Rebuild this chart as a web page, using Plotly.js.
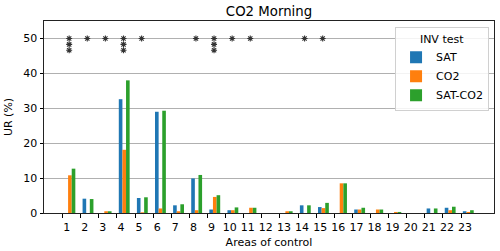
<!DOCTYPE html>
<html>
<head>
<meta charset="utf-8">
<script src="https://cdn.plot.ly/plotly-3.0.1.min.js"></script>
<style>html,body{margin:0;padding:0;background:#fff;}#chart{width:500px;height:251px;}</style>
</head>
<body>
<div id="chart"></div>
<script>
// Data
const categories = [1,2,3,4,5,6,7,8,9,10,11,12,13,14,15,16,17,18,19,20,21,22,23];
const satValues    = [0, 4.1, 0, 32.6, 4.3, 29.0, 2.2, 9.9, 1.0, 0.8, 0, 0, 0, 2.2, 1.7, 0, 1.0, 0, 0, 0, 1.3, 1.5, 0.5];
const co2Values    = [10.8, 0, 0.5, 18.1, 0.2, 1.3, 0.5, 0.8, 4.6, 0.8, 1.5, 0, 0.5, 0, 1.4, 8.5, 1.0, 1.0, 0.3, 0, 0, 0.8, 0.3];
const satCo2Values = [12.7, 4.0, 0.5, 38.0, 4.5, 29.3, 2.5, 10.9, 5.1, 1.6, 1.5, 0, 0.5, 2.2, 2.9, 8.5, 1.5, 1.0, 0.3, 0, 1.3, 1.8, 0.8];
const seriesNames  = ["SAT", "CO2", "SAT-CO2"];
const tickLabels   = categories.map(String);
// significance markers: category and number of asterisks
const starCategories = [1, 2, 3, 4, 5, 8, 9, 10, 11, 14, 15];
const starCounts     = [3, 1, 1, 3, 1, 1, 3, 1, 1, 1, 1];
const starLevel = 50;

const colors = ["#1f77b4", "#ff7f0e", "#2ca02c"];
const barWidth = 0.2;
const allSeries = [satValues, co2Values, satCo2Values];

const traces = allSeries.map((vals, k) => ({
  type: "bar",
  name: seriesNames[k],
  x: categories,
  y: vals,
  width: barWidth,
  offset: 0.1 + k * barWidth,
  marker: {color: colors[k], line: {width: 0}},
  hoverinfo: "x+y+name"
}));

const starX = [], starY = [];
starCategories.forEach((c, i) => {
  for (let s = 0; s < starCounts[i]; s++) {
    starX.push(c + 0.36);
    starY.push(starLevel - s * 1.7);
  }
});
traces.push({
  type: "scatter",
  mode: "markers",
  x: starX,
  y: starY,
  marker: {symbol: "asterisk-open", size: 5, line: {width: 1.1, color: "#333"}, color: "#333"},
  showlegend: false,
  hoverinfo: "skip"
});

const font = {family: "DejaVu Sans", size: 11, color: "#000"};
const layout = {
  width: 500, height: 251,
  margin: {l: 44, r: 6, t: 21, b: 38, pad: 0},
  paper_bgcolor: "#fff", plot_bgcolor: "#fff",
  font: font,
  barmode: "overlay",
  title: {text: "CO2 Morning", font: {family: "DejaVu Sans", size: 13.3, color: "#000"},
          x: 0.538, xanchor: "center", xref: "container", y: 0.955, yanchor: "middle", yref: "container"},
  xaxis: {
    range: [-0.03, 24.82],
    tickmode: "array", tickvals: categories, ticktext: tickLabels,
    ticks: "outside", ticklen: 3.5, tickwidth: 1, tickcolor: "#000",
    ticklabelshift: 4,
    showgrid: false, zeroline: false,
    showline: true, mirror: true, linecolor: "#222", linewidth: 1,
    tickfont: font,
    title: {text: "Areas of control", font: font, standoff: 5}
  },
  yaxis: {
    range: [0, 55],
    tickmode: "linear", tick0: 0, dtick: 10,
    ticks: "outside", ticklen: 3.5, tickwidth: 1, tickcolor: "#000",
    showgrid: true, gridcolor: "#b0b0b0", gridwidth: 1,
    zeroline: false,
    showline: true, mirror: true, linecolor: "#222", linewidth: 1,
    tickfont: font,
    title: {text: "UR (%)", font: font, standoff: 8}
  },
  legend: {
    x: 0.989, xanchor: "right", y: 0.967, yanchor: "top",
    bgcolor: "rgba(255,255,255,0.85)", bordercolor: "#d0d0d0", borderwidth: 1,
    font: font,
    title: {text: "INV test", side: "top center", font: font},
    tracegroupgap: 0
  },
  showlegend: true
};

Plotly.newPlot("chart", traces, layout, {displayModeBar: false, staticPlot: true});
</script>
</body>
</html>
